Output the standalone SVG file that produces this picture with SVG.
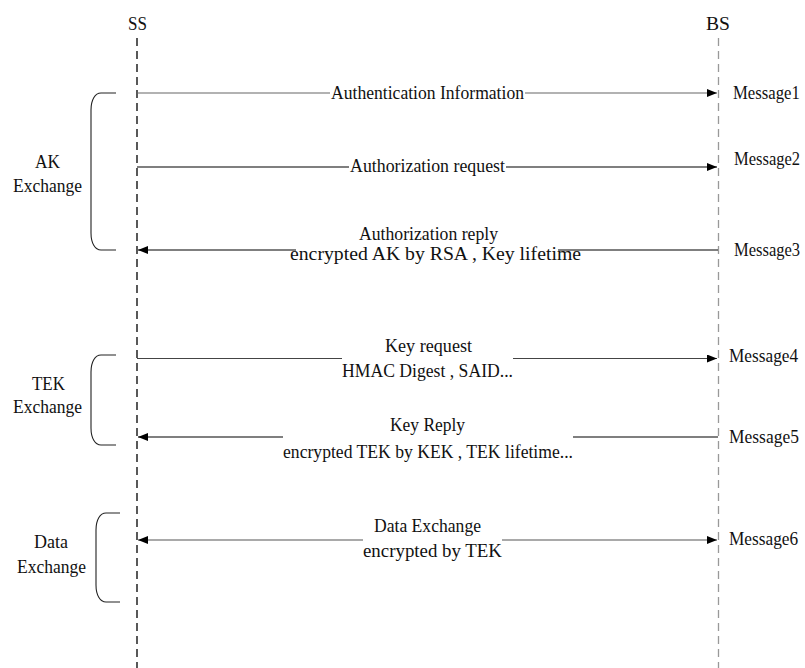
<svg xmlns="http://www.w3.org/2000/svg" width="805" height="668" viewBox="0 0 805 668">
  <style>
    .lbl { font-family: "Liberation Serif", "Times New Roman", serif; font-size: 18px; fill: #111; }
    .tag { font-family: "Liberation Serif", "Times New Roman", serif; font-size: 19px; fill: #111; }
    .life { fill: none; stroke-width: 1.3; stroke-dasharray: 8 5; }
    .msg { fill: none; stroke-width: 1.2; }
    .brace { fill: none; stroke: #222; stroke-width: 1.1; }
  </style>
  <defs>
    <marker id="arrow" markerWidth="10" markerHeight="8" refX="10" refY="4" orient="auto" markerUnits="userSpaceOnUse">
      <path d="M0,0 L10,4 L0,8 z" fill="#000"/>
    </marker>
  </defs>

  <!-- lifelines -->
  <g id="ss">
    <text class="lbl" x="128" y="30" textLength="19" lengthAdjust="spacingAndGlyphs">SS</text>
    <line class="life" x1="137" y1="38" x2="137" y2="668" stroke="#000"/>
  </g>
  <g id="bs">
    <text class="lbl" x="706" y="30" textLength="24" lengthAdjust="spacingAndGlyphs">BS</text>
    <line class="life" x1="718.5" y1="38" x2="718.5" y2="668" stroke="#999"/>
  </g>

  <!-- phase braces -->
  <g id="ak-exchange">
    <path class="brace" d="M116,93 H101 C95,93 91,100 91,110 V233 C91,243 95,250 101,250 H116"/>
    <text class="lbl" x="35" y="168" textLength="25" lengthAdjust="spacingAndGlyphs">AK</text>
    <text class="lbl" x="13" y="192" textLength="69" lengthAdjust="spacingAndGlyphs">Exchange</text>
  </g>
  <g id="tek-exchange">
    <path class="brace" d="M116,355 H101 C95,355 91,362 91,372 V428 C91,438 95,445 101,445 H116"/>
    <text class="lbl" x="32" y="390" textLength="33" lengthAdjust="spacingAndGlyphs">TEK</text>
    <text class="lbl" x="13" y="413" textLength="69" lengthAdjust="spacingAndGlyphs">Exchange</text>
  </g>
  <g id="data-exchange">
    <path class="brace" d="M120,513 H106 C100,513 96,520 96,530 V585 C96,595 100,602 106,602 H120"/>
    <text class="lbl" x="34" y="548" textLength="34" lengthAdjust="spacingAndGlyphs">Data</text>
    <text class="lbl" x="17" y="573" textLength="69" lengthAdjust="spacingAndGlyphs">Exchange</text>
  </g>

  <!-- messages -->
  <g id="connectors">
    <path class="msg" stroke="#666" d="M137,93 H330"/>
    <path class="msg" stroke="#666" d="M525,93 H717" marker-end="url(#arrow)"/>

    <path class="msg" stroke="#000" d="M137,167 H349"/>
    <path class="msg" stroke="#000" d="M506,167 H717" marker-end="url(#arrow)"/>

    <path class="msg" stroke="#000" d="M718,250 H558"/>
    <path class="msg" stroke="#000" d="M296,250 H138" marker-end="url(#arrow)"/>

    <path class="msg" stroke="#444" d="M137,358.5 H342"/>
    <path class="msg" stroke="#444" d="M513,358.5 H717" marker-end="url(#arrow)"/>

    <path class="msg" stroke="#000" d="M718,437 H573"/>
    <path class="msg" stroke="#000" d="M283,437 H138" marker-end="url(#arrow)"/>

    <path class="msg" stroke="#555" d="M363,540 H138" marker-end="url(#arrow)"/>
    <path class="msg" stroke="#555" d="M502,540 H717" marker-end="url(#arrow)"/>
  </g>

  <!-- message labels (tags squeezed horizontally to fit beside the BS lifeline) -->
  <g id="msg1">
    <text class="lbl" x="331" y="99" textLength="193" lengthAdjust="spacingAndGlyphs">Authentication Information</text>
    <text class="tag" transform="translate(733,99) scale(0.88,1)">Message1</text>
  </g>
  <g id="msg2">
    <text class="lbl" x="350" y="172" textLength="155" lengthAdjust="spacingAndGlyphs">Authorization request</text>
    <text class="tag" transform="translate(734,165) scale(0.87,1)">Message2</text>
  </g>
  <g id="msg3">
    <text class="lbl" x="359" y="240" textLength="139" lengthAdjust="spacingAndGlyphs">Authorization reply</text>
    <text class="lbl" x="290" y="260" textLength="291" lengthAdjust="spacingAndGlyphs">encrypted AK by RSA , Key lifetime</text>
    <text class="tag" transform="translate(734,256) scale(0.87,1)">Message3</text>
  </g>
  <g id="msg4">
    <text class="lbl" x="385" y="352" textLength="87" lengthAdjust="spacingAndGlyphs">Key request</text>
    <text class="lbl" x="342" y="377" textLength="171" lengthAdjust="spacingAndGlyphs">HMAC Digest , SAID...</text>
    <text class="tag" transform="translate(729,362) scale(0.91,1)">Message4</text>
  </g>
  <g id="msg5">
    <text class="lbl" x="390" y="431" textLength="75" lengthAdjust="spacingAndGlyphs">Key Reply</text>
    <text class="lbl" x="283" y="458" textLength="290" lengthAdjust="spacingAndGlyphs">encrypted TEK by KEK , TEK lifetime...</text>
    <text class="tag" transform="translate(729,443) scale(0.92,1)">Message5</text>
  </g>
  <g id="msg6">
    <text class="lbl" x="374" y="532" textLength="107" lengthAdjust="spacingAndGlyphs">Data Exchange</text>
    <text class="lbl" x="363" y="557" textLength="139" lengthAdjust="spacingAndGlyphs">encrypted by TEK</text>
    <text class="tag" transform="translate(729,545) scale(0.91,1)">Message6</text>
  </g>
</svg>
